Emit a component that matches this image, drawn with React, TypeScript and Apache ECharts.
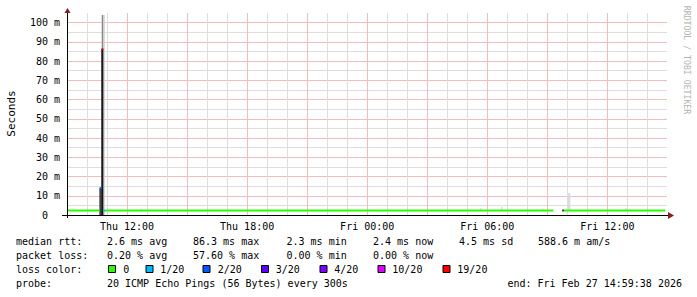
import React, { useEffect, useRef } from 'react';
import * as echarts from 'echarts';

// ---------- data ----------
// time axis in hours since Thu 00:00
const xTickHours = [12, 18, 24, 30, 36];
const xTickLabels = ['Thu 12:00', 'Thu 18:00', 'Fri 00:00', 'Fri 06:00', 'Fri 12:00'];
const yTickValues = [0, 10, 20, 30, 40, 50, 60, 70, 80, 90, 100];
const yTickLabels = ['0\u00a0\u00a0', '10 m', '20 m', '30 m', '40 m', '50 m', '60 m', '70 m', '80 m', '90 m', '100 m'];

// median rtt segments: [startHour, endHour, medianMs, lossIndex]
const medianSegments = [
  [9.0, 10.615, 2.3, 0],
  [10.65, 10.75, 14.0, 2],
  [10.735, 10.815, 86.3, 6],
  [10.825, 10.9, 2.3, 1],
  [10.9, 33.3, 2.3, 0],
  [33.75, 33.825, 2.3, 7],
  [33.825, 38.9, 2.3, 0],
];

// smoke (ping distribution) : [startHour, endHour, lowMs, highMs, shadeIndex]
const smokeRects = [
  [10.8, 10.885, 0, 104, 0],
  [10.735, 10.8, 0, 104, 1],
  [10.615, 10.735, 0, 14.2, 2],
  [10.715, 10.815, 0, 86.3, 3],
  [12.68, 12.75, 2.3, 3.2, 4],
  [29.63, 29.72, 2.3, 3.5, 4],
  [30.68, 30.76, 2.3, 4.2, 4],
  [32.78, 32.86, 2.3, 3.2, 4],
  [34.03, 34.15, 2.3, 11.3, 4],
  [36.88, 36.96, 2.3, 3.5, 4],
];
const smokeShades = ['#cfcfcf', '#888888', '#444444', '#161616', '#dcdcdc'];

const lossLabels = ['0', '1/20', '2/20', '3/20', '4/20', '10/20', '19/20'];
const lossColors = ['#26ff00', '#00b8ff', '#0059ff', '#5e00ff', '#7e00ff', '#dd00ff', '#ff0000', '#000000'];

const rttStats = ['2.6 ms avg', '86.3 ms max', '2.3 ms min', '2.4 ms now', '4.5 ms sd', '588.6 m am/s'];
const lossStats = ['0.20 % avg', '57.60 % max', '0.00 % min', '0.00 % now'];
const probeText = '20 ICMP Echo Pings (56 Bytes) every 300s';
const endText = 'end: Fri Feb 27 14:59:38 2026';

// ---------- layout ----------
const MONO = '"DejaVu Sans Mono", monospace';
const statX = [107, 193, 286.5, 373, 459, 538];
const boxX = [108.5, 146, 203, 261.5, 320, 378, 443];
const lossLabelX = [123.3, 160.3, 217.7, 275.7, 334.3, 392.3, 457.3];
const rowY = [241, 255, 269, 283];

function txt(text: string, x: number, y: number, extra: any = {}) {
  return {
    type: 'text',
    x,
    y,
    z: 100,
    style: {
      text,
      font: `10px ${MONO}`,
      fill: '#000',
      align: 'left',
      verticalAlign: 'middle',
      ...extra,
    },
  };
}

export default function App() {
  const ref = useRef<HTMLDivElement>(null);

  useEffect(() => {
    if (!ref.current) return;
    const chart = echarts.init(ref.current, undefined, { renderer: 'svg' });

    const red = '#f3bcbc';
    const grey = '#dedede';
    // last entry hides the split line drawn at the axis maximum
    const xSplitColors = [red, red, red, red, red, red, red, red, red, red, 'rgba(255,255,255,0)'];
    const ySplitColors = [red, red, red, red, red, red, red, red, red, red, red, 'rgba(255,255,255,0)'];

    const graphics: any[] = [];
    graphics.push({
      type: 'text', x: 11, y: 113.5, rotation: Math.PI / 2, z: 100,
      style: { text: 'Seconds', font: `11px ${MONO}`, fill: '#000', align: 'center', verticalAlign: 'middle' },
    });
    graphics.push({
      type: 'text', x: 687, y: 60, rotation: -Math.PI / 2, z: 100,
      style: { text: 'RRDTOOL / TOBI OETIKER', font: `8.2px ${MONO}`, fill: '#b4b4b4', align: 'center', verticalAlign: 'middle' },
    });
    // axis extensions + arrows
    graphics.push({ type: 'line', z: 100, shape: { x1: 62, y1: 215.5, x2: 668, y2: 215.5 }, style: { stroke: '#000', lineWidth: 1 } });
    graphics.push({ type: 'line', z: 100, shape: { x1: 67.5, y1: 218, x2: 67.5, y2: 11 }, style: { stroke: '#000', lineWidth: 1 } });
    graphics.push({ type: 'polygon', z: 101, shape: { points: [[668, 212], [674, 215.5], [668, 219]] }, style: { fill: '#8b1c1c' } });
    graphics.push({ type: 'polygon', z: 101, shape: { points: [[64.5, 13], [67.5, 8], [70.5, 13]] }, style: { fill: '#8b1c1c' } });

    // legend rows
    graphics.push(txt('median rtt:', 16, rowY[0]));
    rttStats.forEach((s, i) => graphics.push(txt(s, statX[i], rowY[0])));
    graphics.push(txt('packet loss:', 16, rowY[1]));
    lossStats.forEach((s, i) => graphics.push(txt(s, statX[i], rowY[1])));
    graphics.push(txt('loss color:', 16, rowY[2]));
    lossLabels.forEach((s, i) => {
      graphics.push({
        type: 'rect', z: 100,
        shape: { x: boxX[i], y: rowY[2] - 3.5, width: 7, height: 7 },
        style: { fill: lossColors[i], stroke: '#000', lineWidth: 1 },
      });
      graphics.push(txt(s, lossLabelX[i], rowY[2]));
    });
    graphics.push(txt('probe:', 16, rowY[3]));
    graphics.push(txt(probeText, statX[0], rowY[3]));
    graphics.push(txt(endText, 682, rowY[3], { align: 'right' }));

    const near = (a: number, b: number) => Math.abs(a - b) < 1e-6;

    chart.setOption({
      animation: false,
      backgroundColor: '#ffffff',
      grid: { left: 67, right: 30, top: 13, bottom: 82 },
      xAxis: {
        type: 'value',
        min: 9,
        max: 38.98,
        interval: 3,
        axisLine: { show: true, lineStyle: { color: '#000', width: 1 } },
        axisTick: { show: false },
        axisLabel: {
          margin: 6,
          color: '#000',
          fontFamily: MONO,
          fontSize: 10,
          formatter: (v: number) => {
            const i = xTickHours.findIndex((h) => near(h, v));
            return i >= 0 ? xTickLabels[i] : '';
          },
        },
        splitLine: { show: true, lineStyle: { color: xSplitColors, width: 1 } },
        minorTick: { show: false, splitNumber: 3 },
        minorSplitLine: { show: true, lineStyle: { color: grey, width: 1 } },
      },
      yAxis: {
        type: 'value',
        min: 0,
        max: 105,
        interval: 10,
        axisLine: { show: true, lineStyle: { color: '#000', width: 1 } },
        axisTick: { show: false },
        axisLabel: {
          margin: 7,
          color: '#000',
          fontFamily: MONO,
          fontSize: 10,
          formatter: (v: number) => {
            const i = yTickValues.findIndex((h) => near(h, v));
            return i >= 0 ? yTickLabels[i] : '';
          },
        },
        splitLine: { show: true, lineStyle: { color: ySplitColors, width: 1 } },
        minorTick: { show: false, splitNumber: 2 },
        minorSplitLine: { show: true, lineStyle: { color: grey, width: 1 } },
      },
      series: [
        {
          type: 'custom',
          name: 'smoke',
          z: 2,
          encode: { x: [0, 1], y: [2, 3] },
          data: smokeRects,
          renderItem: (params: any, api: any) => {
            const a = api.coord([api.value(0), api.value(3)]);
            const b = api.coord([api.value(1), api.value(2)]);
            return {
              type: 'rect',
              shape: { x: a[0], y: a[1], width: b[0] - a[0], height: b[1] - a[1] },
              style: { fill: smokeShades[api.value(4)] },
            };
          },
        },
        {
          type: 'custom',
          name: 'median',
          z: 3,
          encode: { x: [0, 1], y: 2 },
          data: medianSegments,
          renderItem: (params: any, api: any) => {
            const a = api.coord([api.value(0), api.value(2)]);
            const b = api.coord([api.value(1), api.value(2)]);
            return {
              type: 'rect',
              shape: { x: a[0], y: a[1] - 1, width: Math.max(b[0] - a[0], 1.5), height: 2 },
              style: { fill: lossColors[api.value(3)] },
            };
          },
        },
      ],
      graphic: { elements: graphics },
    });

    return () => chart.dispose();
  }, []);

  return (
    <div
      ref={ref}
      style={{ position: 'fixed', left: 0, top: 0, width: 697, height: 297, background: '#fff' }}
    />
  );
}
